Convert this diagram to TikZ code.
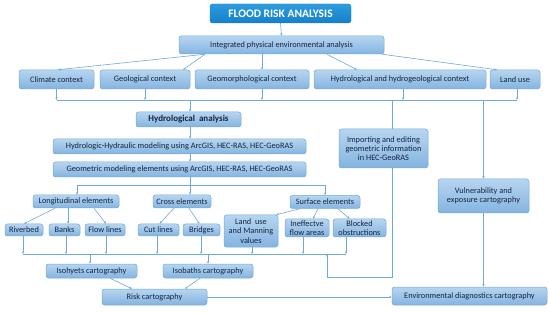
\documentclass[tikz,border=0pt]{standalone}
\usepackage{fontspec}
\setmainfont{Carlito}
\usetikzlibrary{arrows.meta,calc}
\definecolor{bd}{HTML}{74A9D9}
\definecolor{ftop}{HTML}{B6D5F0}
\definecolor{fbot}{HTML}{84B4E0}
\definecolor{tx}{HTML}{17253F}
\definecolor{ln}{HTML}{6FA8DC}
\definecolor{ttop}{HTML}{2C9BE0}
\definecolor{tbot}{HTML}{1580C8}
\tikzset{
  box/.style={rounded corners=2.5pt, draw=bd, line width=0.5pt, top color=ftop, bottom color=fbot,
    font=\fontsize{8.3}{9.3}\selectfont, text=tx, inner sep=0pt, align=center},
  conn/.style={draw=ln, line width=0.6pt},
  arr/.style={conn, -{Stealth[length=2.6pt,width=2.2pt]}},
}
\begin{document}
\begin{tikzpicture}[x=1pt,y=-1pt]
\useasboundingbox (0,0) rectangle (550,313);
% nodes
\node[rounded corners=2.5pt, draw=tbot, top color=ttop, bottom color=tbot, text=white,
  font=\fontsize{11.5}{13}\selectfont\bfseries, minimum width=141pt, minimum height=19pt, inner sep=0pt]
  (title) at (280.5,13.5) {FLOOD RISK ANALYSIS};
\node[box, minimum width=205pt, minimum height=18pt] (integ) at (281.5,45) {Integrated physical environmental analysis};
\node[box, minimum width=75pt, minimum height=19pt] (clim) at (56.5,79.5) {Climate context};
\node[box, minimum width=90pt, minimum height=19pt] (geol) at (145,79.5) {Geological context};
\node[box, minimum width=114pt, minimum height=19pt] (geom) at (252,79.5) {Geomorphological context};
\node[box, minimum width=172pt, minimum height=19pt] (hydc) at (400,79.5) {Hydrological and hydrogeological context};
\node[box, minimum width=50pt, minimum height=19pt] (land) at (515,79.5) {Land use};
\node[box, minimum width=105pt, minimum height=15pt, font=\fontsize{9}{10}\selectfont\bfseries] (hyda) at (188.5,119.5) {Hydrological\ \ analysis};
\node[box, minimum width=253pt, minimum height=15pt] (hh) at (179.5,146.5) {Hydrologic-Hydraulic modeling using ArcGIS, HEC-RAS, HEC-GeoRAS};
\node[box, minimum width=253pt, minimum height=15pt] (gm) at (179.5,169.5) {Geometric modeling elements using ArcGIS, HEC-RAS, HEC-GeoRAS};
\node[box, minimum width=86pt, minimum height=13pt] (long) at (76,201.5) {Longitudinal elements};
\node[box, minimum width=58pt, minimum height=13pt] (cross) at (182,201.5) {Cross elements};
\node[box, minimum width=70pt, minimum height=13pt] (surf) at (325,202) {Surface elements};
\node[box, minimum width=38pt, minimum height=12pt] (riv) at (24,230) {Riverbed};
\node[box, minimum width=31pt, minimum height=12pt] (banks) at (64.5,230) {Banks};
\node[box, minimum width=40pt, minimum height=12pt] (flow) at (105,230) {Flow lines};
\node[box, minimum width=41pt, minimum height=12pt] (cut) at (158.5,230) {Cut lines};
\node[box, minimum width=37pt, minimum height=12pt] (bridges) at (201.5,230) {Bridges};
\node[box, minimum width=54pt, minimum height=32pt] (landm) at (251,231) {Land\ \ use\\and Manning\\values};
\node[box, minimum width=44pt, minimum height=18pt] (ineff) at (307,228) {Ineffectve\\flow areas};
\node[box, minimum width=53pt, minimum height=18pt] (blocked) at (359.5,228) {Blocked\\obstructions};
\node[box, minimum width=89pt, minimum height=39pt] (import) at (383.5,148.5) {Importing and editing\\geometric information\\in HEC-GeoRAS};
\node[box, minimum width=91pt, minimum height=34pt] (vuln) at (483.5,196) {Vulnerability and\\exposure cartography};
\node[box, minimum width=91pt, minimum height=14pt] (isoh) at (91.5,271) {Isohyets cartography};
\node[box, minimum width=90pt, minimum height=14pt] (isob) at (208,271) {Isobaths cartography};
\node[box, minimum width=105pt, minimum height=16pt] (risk) at (154.5,297) {Risk cartography};
\node[box, minimum width=155pt, minimum height=18pt] (env) at (469.5,296) {Environmental diagnostics cartography};
% bus coordinates
\coordinate (busA) at (0,100);
\coordinate (busB) at (0,185);
\coordinate (busC) at (0,254);
\coordinate (loopY) at (0,277);
\coordinate (loopX) at (327,0);
% title -> integrated
\draw[arr] (title.south) -- (integ.north);
% integrated -> contexts
\draw[arr] ([xshift=-76.5pt]integ.south) -- ([xshift=1.5pt]clim.north);
\draw[arr] ([xshift=-76.5pt]integ.south) -- ([xshift=38pt]geol.north);
\draw[arr] ([xshift=-19.5pt]integ.south) -- ([xshift=-19.5pt]integ.south |- geom.north);
\draw[arr] ([xshift=45.5pt]integ.south) -- ([xshift=-43pt]hydc.north);
\draw[arr] ([xshift=-2pt]integ.south east) -- ([xshift=-18pt]land.north);
% contexts -> bus A
\draw[conn] (clim.south |- busA) -- ([xshift=2pt]land.south |- busA);
\draw[arr] (clim.south) -- (clim.south |- busA);
\draw[arr] (geol.south) -- (geol.south |- busA);
\draw[arr] ([xshift=10pt]geom.south) -- ([xshift=10pt]geom.south |- busA);
\draw[arr] ([xshift=3pt]hydc.south) -- ([xshift=3pt]hydc.south |- busA);
\draw[arr] ([xshift=2pt]land.south) -- ([xshift=2pt]land.south |- busA);
% bus A -> hydrological analysis, import, vulnerability
\draw[arr] ([xshift=1.5pt]hyda.north |- busA) -- ([xshift=1.5pt]hyda.north);
\draw[conn] ([xshift=8.5pt]import.north |- busA) -- ([xshift=8.5pt]import.north);
\draw[arr] (vuln.north |- busA) -- (vuln.north);
% vertical chain
\draw[arr] ([xshift=1.5pt]hyda.south) -- ([xshift=1.5pt]hyda.south |- hh.north);
\draw[arr] ([xshift=1.5pt]hyda.south |- hh.south) -- ([xshift=1.5pt]hyda.south |- gm.north);
% gm -> bus B
\draw[conn] ([xshift=1.5pt]hyda.south |- gm.south) -- ([xshift=1.5pt]hyda.south |- busB);
\draw[conn] ([xshift=1pt]long.north |- busB) -- (surf.north |- busB);
\draw[arr] ([xshift=1pt]long.north |- busB) -- ([xshift=1pt]long.north);
\draw[arr] ([xshift=8pt]cross.north |- busB) -- ([xshift=8pt]cross.north);
\draw[arr] (surf.north |- busB) -- (surf.north);
% longitudinal -> leaves
\draw[arr] ([xshift=-21pt]long.south) -- ([xshift=0pt]riv.north);
\draw[arr] ([xshift=-8pt]long.south) -- ([xshift=-8pt]long.south |- banks.north);
\draw[arr] ([xshift=18pt]long.south) -- ([xshift=1pt]flow.north);
% cross -> leaves
\draw[arr] ([xshift=-8pt]cross.south) -- ([xshift=1pt]cut.north);
\draw[arr] ([xshift=7pt]cross.south) -- ([xshift=-2pt]bridges.north);
% surface -> leaves
\draw[arr] ([xshift=-25pt]surf.south) -- ([xshift=-2pt]landm.north east);
\draw[arr] ([xshift=-7pt]surf.south) -- ([xshift=6pt]ineff.north);
\draw[arr] ([xshift=13pt]surf.south) -- ([xshift=-10pt]blocked.north);
% leaves -> bus C
\draw[conn] ([xshift=-1pt]riv.south |- busC) -- ([xshift=-13.5pt]blocked.south |- busC);
\draw[arr] ([xshift=-1pt]riv.south) -- ([xshift=-1pt]riv.south |- busC);
\draw[arr] ([xshift=1.5pt]banks.south) -- ([xshift=1.5pt]banks.south |- busC);
\draw[arr] ([xshift=1pt]flow.south) -- ([xshift=1pt]flow.south |- busC);
\draw[arr] ([xshift=-1.5pt]cut.south) -- ([xshift=-1.5pt]cut.south |- busC);
\draw[arr] ([xshift=-0.5pt]bridges.south) -- ([xshift=-0.5pt]bridges.south |- busC);
\draw[arr] ([xshift=1pt]landm.south) -- ([xshift=1pt]landm.south |- busC);
\draw[arr] ([xshift=-4pt]ineff.south) -- ([xshift=-4pt]ineff.south |- busC);
\draw[arr] ([xshift=-13.5pt]blocked.south) -- ([xshift=-13.5pt]blocked.south |- busC);
% import loop back to bus C
\draw[arr] ([xshift=8.5pt]import.south) -- ([xshift=8.5pt]import.south |- loopY) -- (loopX |- loopY) -- (loopX |- busC);
% bus C -> isohyets, isobaths
\draw[arr] ([xshift=-1.5pt]isoh.north |- busC) -- ([xshift=-1.5pt]isoh.north);
\draw[arr] (isob.north |- busC) -- (isob.north);
% -> risk
\draw[arr] ([xshift=18.5pt]isoh.south) -- ([xshift=-22.5pt]risk.north);
\draw[arr] ([xshift=-8pt]isob.south) -- ([xshift=30.5pt]risk.north);
% risk -> env
\draw[arr] (risk.east) -- (risk.east -| env.west);
% vulnerability -> env
\draw[arr] (vuln.south) -- (vuln.south |- env.north);
\end{tikzpicture}
\end{document}
